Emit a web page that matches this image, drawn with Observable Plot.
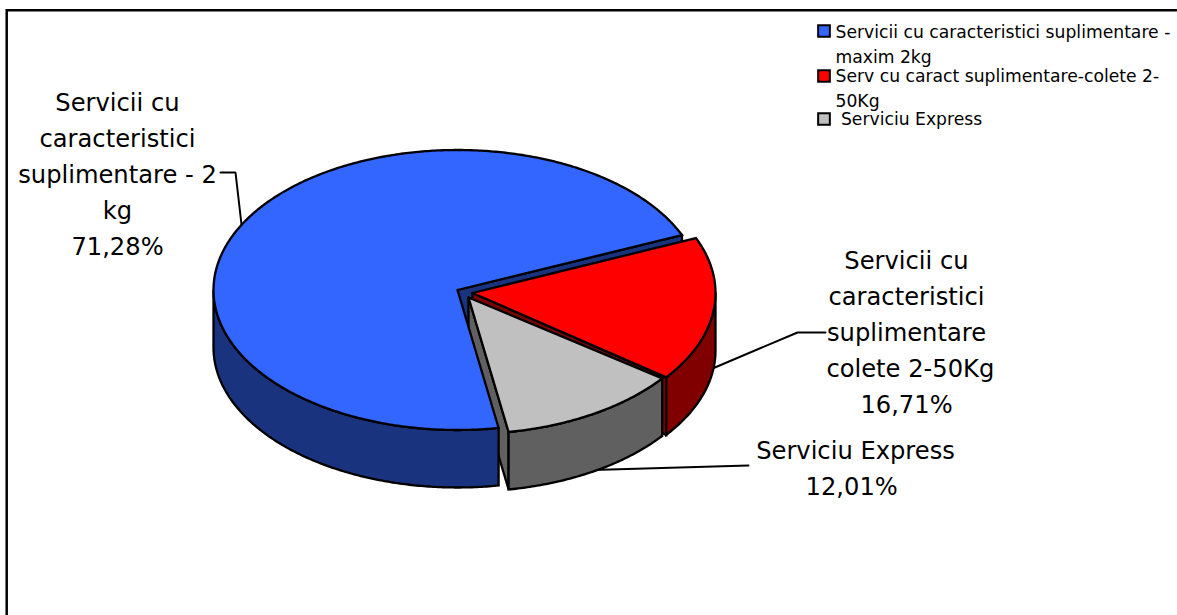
<!DOCTYPE html>
<html><head><meta charset="utf-8">
<script src="https://cdn.jsdelivr.net/npm/d3@7"></script>
<script src="https://cdn.jsdelivr.net/npm/@observablehq/plot@0.6"></script>
<style>html,body{margin:0;padding:0;background:#fff;overflow:hidden}svg{display:block}</style>
</head><body><div id="c"></div>
<script>
// Data
const categories = ["Servicii cu caracteristici suplimentare - 2 kg", "Servicii cu caracteristici suplimentare colete 2-50Kg", "Serviciu Express"];
const shares = [71.28, 16.71, 12.01];
const legendNames = ["Servicii cu caracteristici suplimentare -\nmaxim 2kg", "Serv cu caract suplimentare-colete 2-\n50Kg", " Serviciu Express"];
const labelNames = ["Servicii cu\ncaracteristici\nsuplimentare - 2\nkg", "Servicii cu\ncaracteristici\nsuplimentare\n colete 2-50Kg", "Serviciu Express"];
const labelTails = ["", "", "\u00a0"];

// Style + layout
const topColors = ["#3366ff", "#ff0000", "#c0c0c0"];
const sideColors = ["#1a337f", "#800000", "#606060"];
const W = 1177, H = 615, RX = 244, RY = 140, DEPTH = 57.5;
const START = 80.3 * Math.PI / 180;
const centers = [{x: 457, y: 289.5, ax: 0, ay: 0}, {x: 471, y: 292.5, ax: 1, ay: 0}, {x: 467, y: 293.5, ax: 1, ay: 3.5}];
const labelPos = [{x: 117, y: 102}, {x: 906, y: 260}, {x: 855, y: 450}];
const legendPos = [{x: 823.5, y: 30.5, tx: 835, ty: 32}, {x: 823.5, y: 75.5, tx: 835, ty: 76}, {x: 823.5, y: 118.5, tx: 835, ty: 119}];
const FONT = "'DejaVu Sans', sans-serif";

const arcs = d3.pie().sort(null).startAngle(START).endAngle(START + 2 * Math.PI)(shares);
const fmt = v => v.toFixed(2).replace(".", ",") + "%";

const rim = (c, t, dz = 0) => ({x: c.x + RX * Math.cos(t), y: c.y + RY * Math.sin(t) + dz});
const arcPts = (c, a, b, dz = 0) => {
  const n = Math.max(2, Math.ceil(Math.abs(b - a) / 0.01));
  return d3.range(n + 1).map(i => rim(c, a + (b - a) * i / n, dz));
};
const poly = (pts, fill) => {
  const closed = [...pts, pts[0]];
  return Plot.line(closed, {x: "x", y: "y", fill, stroke: "black", strokeWidth: 2.3, strokeLinejoin: "miter", strokeMiterlimit: 4});
};
const apex = (c, dz = 0) => ({x: c.x + c.ax, y: c.y + c.ay + dz});
const topFace = i => poly([apex(centers[i]), ...arcPts(centers[i], arcs[i].startAngle, arcs[i].endAngle)], topColors[i]);
const cutWall = (i, t) => poly([apex(centers[i]), rim(centers[i], t), rim(centers[i], t, DEPTH), apex(centers[i], DEPTH)], sideColors[i]);
const outerWall = (i, a, b) => poly([...arcPts(centers[i], a, b), ...arcPts(centers[i], b, a, DEPTH)], sideColors[i]);

const [blue, red, grey] = arcs;
const leader = pts => Plot.line(pts, {x: "x", y: "y", stroke: "black", strokeWidth: 2, strokeLinejoin: "miter"});
const marks = [
  // frame: open at the right and bottom
  Plot.ruleY([9.7], {x1: 6, x2: W, stroke: "black", strokeWidth: 2.5}),
  Plot.ruleX([6.2], {y1: 9, y2: H, stroke: "black", strokeWidth: 2.5}),
  // leaders
  leader([{x: 748, y: 465}, {x: 575, y: 470}]),
  leader([{x: 825, y: 332}, {x: 797, y: 332}, {x: 712, y: 368}]),
  leader([{x: 220, y: 172}, {x: 235, y: 172}, {x: 241, y: 224}]),
  // pie, back to front
  cutWall(0, blue.endAngle),
  cutWall(1, red.endAngle),
  outerWall(1, 2 * Math.PI, red.endAngle),
  topFace(1),
  cutWall(2, grey.endAngle),
  outerWall(2, grey.startAngle, grey.endAngle),
  topFace(2),
  outerWall(0, blue.startAngle, Math.PI),
  topFace(0),
  // labels
  Plot.text(categories, {
    x: (d, i) => labelPos[i].x, y: (d, i) => labelPos[i].y,
    text: (d, i) => labelNames[i] + "\n" + fmt(shares[i]) + labelTails[i],
    fontSize: 24.2, lineHeight: 1.49, lineAnchor: "top", dy: -17, textAnchor: "middle", fill: "black", fontFamily: FONT, fontStretch: "condensed"
  }),
  // legend
  Plot.dot(categories, {
    x: (d, i) => legendPos[i].x, y: (d, i) => legendPos[i].y, symbol: "square", r: 6.6,
    fill: (d, i) => topColors[i], stroke: "black", strokeWidth: 2
  }),
  Plot.text(categories, {
    x: (d, i) => legendPos[i].tx, y: (d, i) => legendPos[i].ty,
    text: (d, i) => legendNames[i],
    fontSize: 17.2, lineHeight: 1.45, lineAnchor: "top", dy: -12, textAnchor: "start", fill: "black", fontFamily: FONT, fontStretch: "condensed"
  })
];

const chart = Plot.plot({
  width: W, height: H, margin: 0,
  x: {domain: [0, W], range: [0, W], axis: null},
  y: {domain: [0, H], range: [0, H], axis: null},
  marks
});
document.getElementById("c").appendChild(chart);
</script></body></html>
